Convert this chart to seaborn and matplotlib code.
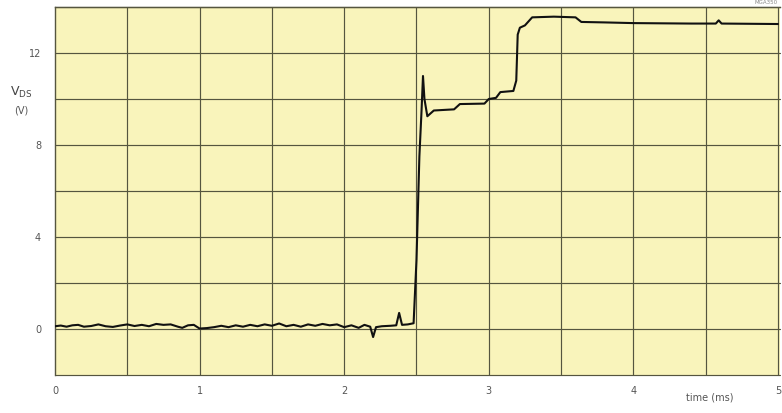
import matplotlib
matplotlib.use("Agg")
import matplotlib.pyplot as plt
import seaborn as sns
import pandas as pd

# ---- data ----
time_ms = [0.00, 0.04, 0.08, 0.12, 0.16, 0.20, 0.25, 0.30, 0.35, 0.40,
           0.45, 0.50, 0.55, 0.60, 0.65, 0.70, 0.75, 0.80, 0.85, 0.88,
           0.92, 0.96, 1.00, 1.05, 1.10, 1.15, 1.20, 1.25, 1.30, 1.35,
           1.40, 1.45, 1.50, 1.55, 1.60, 1.65, 1.70, 1.75, 1.80, 1.85,
           1.90, 1.95, 2.00, 2.05, 2.10, 2.14, 2.18, 2.20, 2.22, 2.26,
           2.32, 2.36, 2.38, 2.40, 2.44, 2.48, 2.50, 2.52, 2.535, 2.545,
           2.555, 2.575, 2.62, 2.76, 2.80, 2.97, 3.00, 3.05, 3.08,
           3.17, 3.19, 3.20, 3.215, 3.25, 3.30, 3.45, 3.60, 3.64, 3.80,
           4.00, 4.40, 4.57, 4.59, 4.61, 5.00]
vds_v = [0.12, 0.15, 0.10, 0.16, 0.18, 0.10, 0.13, 0.20, 0.12, 0.09,
         0.15, 0.20, 0.13, 0.18, 0.12, 0.22, 0.18, 0.20, 0.10, 0.05,
         0.16, 0.18, 0.02, 0.04, 0.08, 0.14, 0.08, 0.16, 0.10, 0.18,
         0.12, 0.20, 0.14, 0.24, 0.12, 0.18, 0.10, 0.20, 0.14, 0.22,
         0.16, 0.20, 0.08, 0.16, 0.05, 0.18, 0.10, -0.35, 0.08, 0.12,
         0.14, 0.16, 0.70, 0.18, 0.20, 0.25, 3.0, 7.5, 9.5, 11.0,
         10.0, 9.25, 9.5, 9.55, 9.78, 9.8, 10.0, 10.05, 10.3,
         10.35, 10.8, 12.8, 13.1, 13.2, 13.55, 13.58, 13.55, 13.35, 13.33,
         13.3, 13.28, 13.28, 13.42, 13.28, 13.26]

x_ticks = [0, 1, 2, 3, 4, 5]
x_tick_labels = ["0", "1", "2", "3", "4", "5"]
y_ticks = [0, 4, 8, 12]
y_tick_labels = ["0", "4", "8", "12"]

df = pd.DataFrame({"t": time_ms, "v": vds_v})

sns.set_style("white")
plt.rcParams['font.family'] = ['DejaVu Sans']

fig = plt.figure(figsize=(7.82, 4.13), dpi=100)
fig.patch.set_facecolor("white")
ax = fig.add_axes([55/782, 38/413, 725/782, 368/413])
ax.set_facecolor("#f9f4bb")

grid_c = "#55553f"
for gx in [0.5 * i for i in range(1, 11)]:
    ax.axvline(gx, color=grid_c, lw=0.85, zorder=1)
for gy in range(-2, 15, 2):
    ax.axhline(gy, color=grid_c, lw=0.85, zorder=1, clip_on=False)

sns.lineplot(data=df, x="t", y="v", sort=False, estimator=None,
             color="#111111", lw=1.5, ax=ax, zorder=3)

ax.set_xlim(0, 5.014)
ax.set_ylim(-2, 14)
ax.set_xticks(x_ticks)
ax.set_xticklabels(x_tick_labels)
ax.set_yticks(y_ticks)
ax.set_yticklabels(y_tick_labels)
ax.tick_params(axis="both", length=0, labelsize=7, colors="#555555")
ax.tick_params(axis="x", pad=8)
ax.tick_params(axis="y", pad=10)
ax.set_xlabel("")
ax.set_ylabel("")
for side in ["left", "top"]:
    ax.spines[side].set_color(grid_c)
    ax.spines[side].set_linewidth(1.0)
for side in ["right", "bottom"]:
    ax.spines[side].set_visible(False)

fig.text(10/782, 1 - 92/413, r"V$_{\mathrm{DS}}$", fontsize=9, color="#444444",
         ha="left", va="center")
fig.text(14/782, 1 - 111/413, "(V)", fontsize=7, color="#555555",
         ha="left", va="center")
fig.text(710/782, 1 - 397/413, "time (ms)", fontsize=7, color="#555555",
         ha="center", va="center")
fig.text(778/782, 1 - 2/413, "MGA350", fontsize=4, color="#888888",
         ha="right", va="center")

fig.savefig("out.png", dpi=100, facecolor="white")
